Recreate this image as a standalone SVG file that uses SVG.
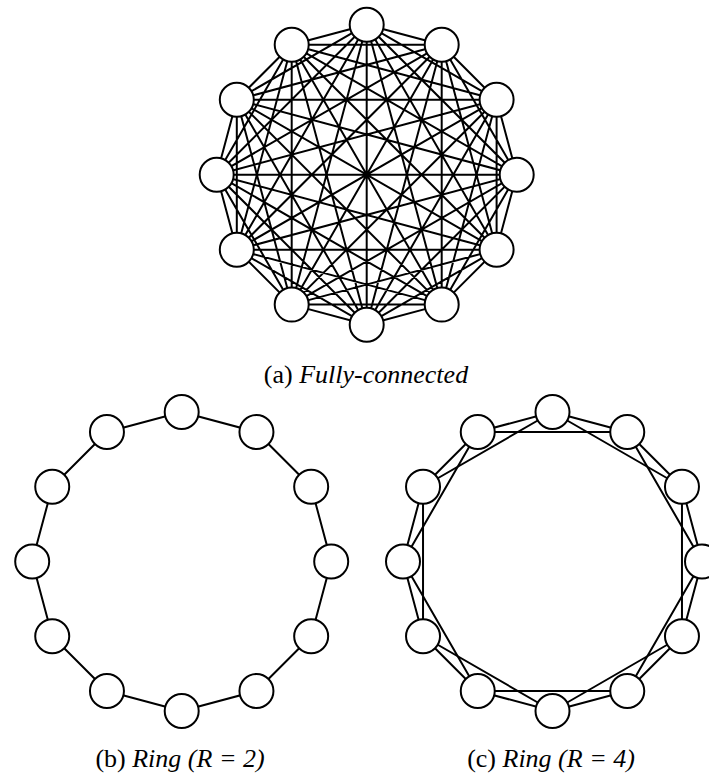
<svg xmlns="http://www.w3.org/2000/svg" width="709" height="776" viewBox="0 0 709 776">
<style>
.edge{fill:none;stroke:#000;stroke-width:2;stroke-linejoin:round}
.node circle{fill:#fff;stroke:#000;stroke-width:2}
.cap{font-family:"Liberation Serif","Times New Roman",serif;font-size:26px;fill:#000;text-anchor:middle}
.it{font-style:italic}
</style>
<rect width="709" height="776" fill="#fff"/>
<g id="connectors">
<path class="edge" d="M366.7 24.7L441.7 44.8M366.7 24.7L496.6 99.7M366.7 24.7L516.7 174.7M366.7 24.7L496.6 249.7M366.7 24.7L441.7 304.6M366.7 24.7L366.7 324.7M366.7 24.7L291.7 304.6M366.7 24.7L236.8 249.7M366.7 24.7L216.7 174.7M366.7 24.7L236.8 99.7M366.7 24.7L291.7 44.8
M441.7 44.8L496.6 99.7M441.7 44.8L516.7 174.7M441.7 44.8L496.6 249.7M441.7 44.8L441.7 304.6M441.7 44.8L366.7 324.7M441.7 44.8L291.7 304.6M441.7 44.8L236.8 249.7M441.7 44.8L216.7 174.7M441.7 44.8L236.8 99.7M441.7 44.8L291.7 44.8
M496.6 99.7L516.7 174.7M496.6 99.7L496.6 249.7M496.6 99.7L441.7 304.6M496.6 99.7L366.7 324.7M496.6 99.7L291.7 304.6M496.6 99.7L236.8 249.7M496.6 99.7L216.7 174.7M496.6 99.7L236.8 99.7M496.6 99.7L291.7 44.8
M516.7 174.7L496.6 249.7M516.7 174.7L441.7 304.6M516.7 174.7L366.7 324.7M516.7 174.7L291.7 304.6M516.7 174.7L236.8 249.7M516.7 174.7L216.7 174.7M516.7 174.7L236.8 99.7M516.7 174.7L291.7 44.8
M496.6 249.7L441.7 304.6M496.6 249.7L366.7 324.7M496.6 249.7L291.7 304.6M496.6 249.7L236.8 249.7M496.6 249.7L216.7 174.7M496.6 249.7L236.8 99.7M496.6 249.7L291.7 44.8
M441.7 304.6L366.7 324.7M441.7 304.6L291.7 304.6M441.7 304.6L236.8 249.7M441.7 304.6L216.7 174.7M441.7 304.6L236.8 99.7M441.7 304.6L291.7 44.8
M366.7 324.7L291.7 304.6M366.7 324.7L236.8 249.7M366.7 324.7L216.7 174.7M366.7 324.7L236.8 99.7M366.7 324.7L291.7 44.8
M291.7 304.6L236.8 249.7M291.7 304.6L216.7 174.7M291.7 304.6L236.8 99.7M291.7 304.6L291.7 44.8
M236.8 249.7L216.7 174.7M236.8 249.7L236.8 99.7M236.8 249.7L291.7 44.8
M216.7 174.7L236.8 99.7M216.7 174.7L291.7 44.8
M236.8 99.7L291.7 44.8"/>
<polygon class="edge" points="181.7,412 256.45,432.03 311.17,486.75 331.2,561.5 311.17,636.25 256.45,690.97 181.7,711 106.95,690.97 52.23,636.25 32.2,561.5 52.23,486.75 106.95,432.03"/>
<polygon class="edge" points="552.5,412 627.25,432.03 681.97,486.75 702,561.5 681.97,636.25 627.25,690.97 552.5,711 477.75,690.97 423.03,636.25 403,561.5 423.03,486.75 477.75,432.03"/>
<polygon class="edge" points="552.5,412 681.97,486.75 681.97,636.25 552.5,711 423.03,636.25 423.03,486.75"/>
<polygon class="edge" points="627.25,432.03 702,561.5 627.25,690.97 477.75,690.97 403,561.5 477.75,432.03"/>
</g>
<g id="graph-a">
<g id="a0" class="node"><circle cx="366.7" cy="24.7" r="17"/></g>
<g id="a1" class="node"><circle cx="441.7" cy="44.8" r="17"/></g>
<g id="a2" class="node"><circle cx="496.6" cy="99.7" r="17"/></g>
<g id="a3" class="node"><circle cx="516.7" cy="174.7" r="17"/></g>
<g id="a4" class="node"><circle cx="496.6" cy="249.7" r="17"/></g>
<g id="a5" class="node"><circle cx="441.7" cy="304.6" r="17"/></g>
<g id="a6" class="node"><circle cx="366.7" cy="324.7" r="17"/></g>
<g id="a7" class="node"><circle cx="291.7" cy="304.6" r="17"/></g>
<g id="a8" class="node"><circle cx="236.8" cy="249.7" r="17"/></g>
<g id="a9" class="node"><circle cx="216.7" cy="174.7" r="17"/></g>
<g id="a10" class="node"><circle cx="236.8" cy="99.7" r="17"/></g>
<g id="a11" class="node"><circle cx="291.7" cy="44.8" r="17"/></g>
</g>
<g id="graph-b">
<g id="b0" class="node"><circle cx="181.7" cy="412" r="17"/></g>
<g id="b1" class="node"><circle cx="256.45" cy="432.03" r="17"/></g>
<g id="b2" class="node"><circle cx="311.17" cy="486.75" r="17"/></g>
<g id="b3" class="node"><circle cx="331.2" cy="561.5" r="17"/></g>
<g id="b4" class="node"><circle cx="311.17" cy="636.25" r="17"/></g>
<g id="b5" class="node"><circle cx="256.45" cy="690.97" r="17"/></g>
<g id="b6" class="node"><circle cx="181.7" cy="711" r="17"/></g>
<g id="b7" class="node"><circle cx="106.95" cy="690.97" r="17"/></g>
<g id="b8" class="node"><circle cx="52.23" cy="636.25" r="17"/></g>
<g id="b9" class="node"><circle cx="32.2" cy="561.5" r="17"/></g>
<g id="b10" class="node"><circle cx="52.23" cy="486.75" r="17"/></g>
<g id="b11" class="node"><circle cx="106.95" cy="432.03" r="17"/></g>
</g>
<g id="graph-c">
<g id="c0" class="node"><circle cx="552.5" cy="412" r="17"/></g>
<g id="c1" class="node"><circle cx="627.25" cy="432.03" r="17"/></g>
<g id="c2" class="node"><circle cx="681.97" cy="486.75" r="17"/></g>
<g id="c3" class="node"><circle cx="702" cy="561.5" r="17"/></g>
<g id="c4" class="node"><circle cx="681.97" cy="636.25" r="17"/></g>
<g id="c5" class="node"><circle cx="627.25" cy="690.97" r="17"/></g>
<g id="c6" class="node"><circle cx="552.5" cy="711" r="17"/></g>
<g id="c7" class="node"><circle cx="477.75" cy="690.97" r="17"/></g>
<g id="c8" class="node"><circle cx="423.03" cy="636.25" r="17"/></g>
<g id="c9" class="node"><circle cx="403" cy="561.5" r="17"/></g>
<g id="c10" class="node"><circle cx="423.03" cy="486.75" r="17"/></g>
<g id="c11" class="node"><circle cx="477.75" cy="432.03" r="17"/></g>
</g>
<g id="captions">
<text class="cap" x="366" y="383">(a) <tspan class="it">Fully-connected</tspan></text>
<text class="cap" x="180" y="767">(b) <tspan class="it">Ring (R = 2)</tspan></text>
<text class="cap" x="551" y="767">(c) <tspan class="it">Ring (R = 4)</tspan></text>
</g>
</svg>
